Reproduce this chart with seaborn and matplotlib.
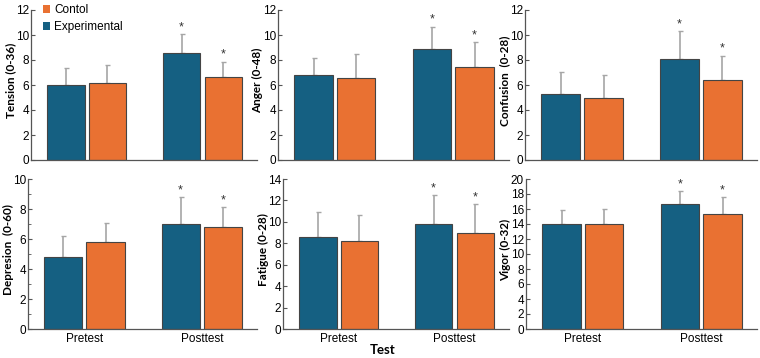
import numpy as np
import pandas as pd
import seaborn as sns
import matplotlib.pyplot as plt
from matplotlib.patches import Patch
from matplotlib.ticker import MultipleLocator

# valores
measures = ["Tension (0-36)", "Anger (0-48)", "Confusion  (0-28)",
            "Depresion  (0-60)", "Fatigue (0-28)", "Vigor (0-32)"]
tests = ["Pretest", "Posttest"]
groups = ["Experimental", "Contol"]
y_max = [12, 12, 12, 10, 14, 20]

exp_pre = [6.0, 6.77, 5.28, 4.81, 8.61, 13.96]
exp_pre_sd = [1.39, 1.36, 1.78, 1.36, 2.32, 1.91]
ctl_pre = [6.19, 6.53, 4.96, 5.79, 8.17, 14.0]
ctl_pre_sd = [1.41, 1.95, 1.86, 1.27, 2.48, 1.96]
exp_post = [8.6, 8.85, 8.10, 7.02, 9.80, 16.67]
exp_post_sd = [1.5, 1.82, 2.23, 1.78, 2.72, 1.77]
ctl_post = [6.67, 7.47, 6.40, 6.79, 8.96, 15.29]
ctl_post_sd = [1.2, 1.97, 1.96, 1.34, 2.69, 2.27]

colors = {"Experimental": "#156082", "Contol": "#E97132"}

plt.rcParams['font.family'] = ['Liberation Sans', 'DejaVu Sans']
fig = plt.figure(figsize=(7.6, 3.58), dpi=100)
W, H = 760, 358
# posicoes dos paineis em pixels (esq, larg)
top_pos = [(31, 226), (278, 231), (525, 232)]
bot_pos = [(28, 229), (283, 226), (526, 231)]

for i, m in enumerate(measures):
    row = i // 3
    left, width = (top_pos if row == 0 else bot_pos)[i % 3]
    bottom = (1 - 160 / H) if row == 0 else (1 - 329 / H)
    ax = fig.add_axes([left / W, bottom, width / W, 150 / H])

    df = pd.DataFrame({
        "test": tests * 2,
        "group": [groups[0]] * 2 + [groups[1]] * 2,
        "mean": [exp_pre[i], exp_post[i], ctl_pre[i], ctl_post[i]],
        "sd": [exp_pre_sd[i], exp_post_sd[i], ctl_pre_sd[i], ctl_post_sd[i]],
    })
    sns.barplot(data=df, x="test", y="mean", hue="group", hue_order=groups,
                palette=colors, saturation=1, width=0.72, gap=0.1, errorbar=None,
                edgecolor="#444444", linewidth=0.8, legend=False, ax=ax, zorder=2)

    for g, cont in zip(groups, ax.containers):
        sub = df[df["group"] == g]
        xs = [b.get_x() + b.get_width() / 2 for b in cont]
        ys = sub["mean"].values
        sds = sub["sd"].values
        ax.errorbar(xs, ys, yerr=[np.zeros_like(sds), sds], fmt="none",
                    ecolor="#a6a6a6", elinewidth=1.2, capsize=1.8, capthick=1, zorder=1)
        # asterisco no pos-teste
        ax.annotate("*", (xs[1], ys[1] + sds[1]), xytext=(0, 0.5),
                    textcoords="offset points", ha="center", va="bottom",
                    fontsize=9, color="#333333")

    ax.set_xlim(-0.48, 1.47)
    ax.set_ylim(0, y_max[i])
    ax.yaxis.set_major_locator(MultipleLocator(2))
    if m.startswith("Depresion"):
        ax.yaxis.set_minor_locator(MultipleLocator(1))
        ax.tick_params(axis="y", which="minor", direction="in", length=2.5, color="#555555")
    ax.tick_params(axis="y", direction="in", length=3, labelsize=8.5, pad=1.5, color="#555555")
    ax.tick_params(axis="x", length=0, labelsize=8.5, pad=3)
    for s in ["top", "right"]:
        ax.spines[s].set_visible(False)
    for s in ["left", "bottom"]:
        ax.spines[s].set_color("#555555")
        ax.spines[s].set_linewidth(0.9)
        ax.spines[s].set_zorder(3)
    ax.set_ylabel(m, fontsize=8.5, fontweight="bold", family=["Lato", "DejaVu Sans"], va="center")
    ax.yaxis.set_label_coords(-20 / width, 0.53)
    ax.set_xlabel("")
    if row == 0:
        ax.set_xticklabels([])

fig.text(0.504, 1 - 350 / H, "Test", ha="center", va="center",
         fontsize=9.5, fontweight="bold", family=["Lato", "DejaVu Sans"])

handles = [Patch(facecolor=colors["Contol"], label="Contol"),
           Patch(facecolor=colors["Experimental"], label="Experimental")]
fig.legend(handles=handles, loc="upper left", bbox_to_anchor=(35 / W, 1.012),
           frameon=False, fontsize=8.5, handlelength=0.6, handleheight=0.6,
           handletextpad=0.3, labelspacing=0.45, borderpad=0.2)

fig.savefig("out.png", dpi=100)
